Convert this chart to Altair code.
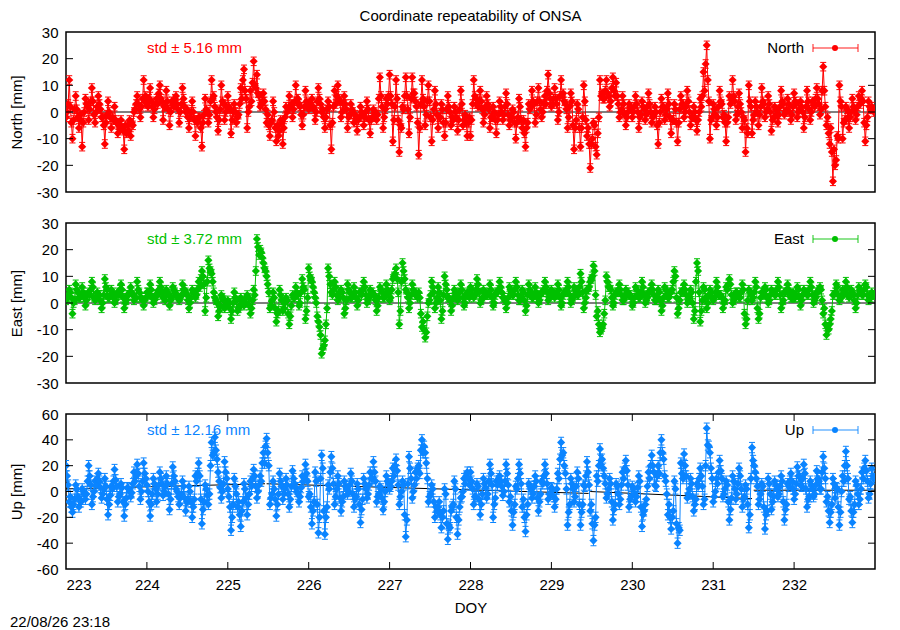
"""
Coordinate repeatability of ONSA: North / East / Up residuals vs. DOY.
"""
import altair as alt
import pandas as pd

# Epochs: 75 samples per day, read in three interleaved sets (a, b, c)
days = list(range(223, 233))
steps_per_day = 75
x_ticks = list(range(223, 233))

# North residuals [mm], set a (one row per day)
north_a = (
    [-2, 12, -10, 6, -6, -13, 5, -3, 9, -4, 6, -2, -12, 4, -6, 2, -8, -3, -14, -5, -9, 0, 6, -2, 12]
    + [3, 9, -2, 5, 10, -3, 8, -5, 3, 6, -4, 9, 0, -6, 4, -9, -2, -13, 5, -4, 12, 2, -7, 10, -3]
    + [6, -8, 3, -2, 9, 16, -6, 8, 19, 14, 2, 7, -4, -9, 4, -11, -7, -12, 2, 6, -2, 10, 3, -5, 8]
    + [1, 5, -3, 9, 0, -6, 4, -14, 8, 10, -2, 6, -6, 3, -4, -7, 2, -5, 4, -8, 1, -3, 13, -6, 5]
    + [14, -11, 12, -15, 2, 13, -8, 13, 4, -16, 12, -5, 10, -11, 8, -6, 3, -9, 6, -5, 2, -7, 8, -3, -9]
    + [-9, 12, 3, 8, -4, 6, -6, 2, -8, 4, -3, 7, -5, 1, -10, 5, -6, -13, 3, 8, -4, 9, -2, 6, 14]
    + [2, 9, -3, 12, 4, -6, 7, -14, 3, -13, 10, -9, -21, -4, -16, 12, 5, 12, 2, 13, 11, -2, 6, -5, 3]
    + [-2, 6, -6, 4, -3, 7, -4, 2, -12, 5, -3, 7, -8, 3, -11, 6, -2, 8, -5, 2, -7, 5, 15, 25, -10]
    + [3, -5, 8, -2, -11, 6, 12, -3, 7, -6, -15, 10, -8, 4, -5, 9, -2, 6, -7, 2, -4, 8, -1, 5, -3]
    + [7, -2, 4, -6, 8, -3, 3, 9, -1, 17, -5, -12, -26, -18, 10, -10, 2, -6, 5, -3, 6, 8, -11, 4, 2]
)
# North residuals [mm], set b
north_b = (
    [0, 2, -3, 1, -1, -4, 3, 1, 4, 0, 3, -2, -4, 0, -2, -3, -5, -6, -5, -7, -4, 1, 3, 2, 4]
    + [2, 4, 1, 3, 5, 2, 4, 0, 2, 3, 0, 5, 1, -2, 0, -3, -2, -4, 1, -1, 5, 0, -3, 4, 0]
    + [2, -3, 0, -1, 5, 8, 0, 4, 10, 7, 3, 4, -1, -4, 0, -5, -3, -6, 0, 2, 1, 4, 2, -1, 4]
    + [3, 2, 0, 5, 1, -2, 2, -4, 3, 5, 0, 3, -2, 1, -1, -3, 0, -2, 1, -3, 0, -1, 6, -2, 3]
    + [6, -3, 5, -5, 1, 6, -2, 7, 2, -6, 5, -1, 4, -3, 3, -2, 1, -4, 2, -2, 0, -3, 3, -1, -4]
    + [-3, 6, 2, 4, -1, 3, -2, 0, -3, 2, -1, 3, -3, 0, -4, 2, -3, -6, 1, 4, -1, 4, 0, 3, 7]
    + [3, 5, 0, 6, 3, -2, 4, -6, 1, -6, 4, -6, -12, -5, -8, 6, 5, 7, 4, 8, 6, 0, 3, -2, 2]
    + [0, 3, -2, 2, -1, 3, -2, 0, -4, 2, -1, 3, -3, 1, -4, 3, 0, 4, -2, 0, -3, 2, 8, 12, -3]
    + [1, -2, 4, -1, -4, 3, 6, -1, 3, -2, -6, 4, -3, 2, -1, 4, 0, 3, -3, 1, -1, 4, 0, 3, -1]
    + [4, 0, 2, -2, 4, 0, 2, 5, 1, 8, -2, -6, -14, -9, 4, -4, 1, -2, 2, -1, 3, 4, -5, 2, 1]
)
# North residuals [mm], set c
north_c = (
    [3, -4, 1, -2, -3, 0, 2, 4, -1, 2, 1, -5, -1, -2, -3, -4, -6, -7, -8, -3, -5, 3, 1, 5, 6]
    + [5, 2, 3, 7, 4, 2, 1, 4, 5, 1, 3, 2, -2, 0, -3, -4, -6, -1, 0, 4, 6, -2, 1, 3, 2]
    + [1, 0, -4, 3, 12, 5, 2, 11, 9, 6, 4, 1, -5, -3, -6, -9, -4, -2, 1, 3, 4, 5, -1, 2, 3]
    + [2, 1, 4, 3, -2, 1, -5, 2, 6, 4, 3, 1, -1, 0, -3, -2, -1, 0, -3, -2, -1, 5, 2, 1, 6]
    + [3, 2, -3, -6, 6, 1, 5, 7, -4, 3, 2, 4, -2, 1, -1, -2, -4, 1, 0, -3, -2, 1, -5, -4, -2]
    + [3, 5, 4, 1, 2, 1, -2, -3, -1, 0, 2, -1, -2, -4, -2, -3, -8, -4, 2, 3, 4, 1, 3, 8, 5]
    + [5, 3, 6, 7, 1, 2, -5, -3, -6, -2, -3, -12, -10, -13, -2, 7, 8, 6, 9, 6, 3, 1, -1, 0, 1]
    + [2, 0, -1, 1, 2, 0, -1, -5, 0, 2, 1, -2, -3, -4, 1, 3, 2, 0, -2, -3, 0, 6, 18, 4, -2]
    + [-1, 2, 3, -4, -2, 5, 4, 2, 0, -3, -8, 2, -1, 0, 2, 3, 1, 0, -2, -1, 2, 3, 1, 0, 2]
    + [3, 1, 0, 2, 1, 4, 5, 3, 8, 2, -8, -15, -20, -10, 2, -3, -2, 0, 1, 2, 5, -4, -2, 1, 0]
)

# East residuals [mm]
east_a = (
    [1, 5, -4, 7, 2, 6, -1, 4, 8, 1, 3, -2, 9, 2, 5, 0, 4, 7, -2, 3, 6, 1, 8, 2, -1]
    + [4, 7, 0, 3, 8, 2, 5, -1, 6, 3, 1, 7, 4, -2, 5, 2, 8, 12, -3, 16, 11, 2, -5, 3, -2]
    + [1, -6, 4, -3, 2, -1, 3, -4, 5, 24, 20, 15, 10, -2, 4, -7, 5, -3, 2, -8, 3, 6, -1, 9, -6]
    + [13, 8, 2, -7, -19, -14, 13, 4, 8, 1, 5, -4, 7, 2, 6, -1, 4, 8, 0, 5, 3, -3, 6, 2, 7]
    + [1, 9, 13, -8, 15, 5, -2, 7, 3, 4, -9, -13, 0, 8, -2, 6, -6, 10, 2, -3, 5, 1, 7, -1, 4]
    + [6, 2, 9, 0, 5, 3, 7, -1, 4, 8, 2, -2, 6, 3, 8, 1, 5, -3, 7, 2, 6, 0, 4, 8, 1]
    + [5, 2, 7, -1, 4, 8, 0, 6, 3, 11, -2, 5, 8, 14, -5, -11, -8, 10, 6, -1, 4, 7, 1, 5, 3]
    + [-1, 6, 2, 8, 0, 4, 7, 1, 5, -3, 6, 2, 4, 12, -4, 4, 7, 0, 5, -6, 15, -7, 6, -2, 5]
    + [1, 8, 3, -2, 6, 9, 0, 4, 2, 7, -8, 5, 1, 8, -6, 4, 6, 0, 5, 3, 8, -2, 4, 7, 2]
    + [2, 6, -1, 5, 3, 8, 0, 4, 6, -4, -12, -8, 3, 7, 1, 5, 8, 2, 4, -2, 6, 3, 7, 1, 4]
)
east_b = (
    [2, 4, 0, 5, 2, 4, 1, 3, 6, 2, 3, 0, 6, 2, 4, 1, 3, 5, 0, 3, 4, 2, 5, 2, 1]
    + [4, 5, 1, 3, 6, 2, 4, 1, 5, 3, 2, 5, 3, 0, 4, 3, 6, 10, 2, 13, 8, 1, -3, 2, -1]
    + [0, -3, 2, -2, 1, 0, 2, -2, 3, 21, 19, 13, 7, -1, 2, -4, 3, -2, 1, -5, 2, 4, 0, 6, -3]
    + [10, 6, 0, -9, -17, -8, 10, 3, 6, 2, 4, -2, 5, 2, 4, 1, 3, 6, 1, 4, 3, -1, 5, 2, 5]
    + [2, 10, 9, -3, 12, 4, 0, 5, 3, 2, -7, -11, 1, 6, 0, 4, -3, 7, 2, -1, 4, 2, 5, 0, 3]
    + [5, 3, 7, 1, 4, 3, 5, 0, 4, 6, 2, 0, 5, 3, 6, 1, 4, -1, 5, 2, 4, 1, 4, 6, 2]
    + [4, 3, 5, 0, 4, 6, 1, 5, 3, 8, 0, 5, 9, 12, -3, -10, -4, 8, 5, 0, 4, 5, 1, 4, 3]
    + [0, 5, 2, 6, 1, 4, 5, 1, 4, -1, 5, 2, 5, 10, -2, 4, 5, 1, 4, -3, 12, -3, 5, 0, 4]
    + [2, 6, 3, 0, 5, 7, 1, 4, 2, 5, -6, 4, 2, 6, -4, 4, 5, 1, 4, 3, 6, 0, 4, 5, 2]
    + [2, 5, 1, 4, 3, 6, 1, 4, 5, -2, -9, -6, 3, 6, 2, 4, 6, 3, 3, 0, 5, 3, 6, 2, 3]
)
east_c = (
    [3, 2, 1, 4, 3, 2, 3, 5, 2, 4, 1, 3, 5, 3, 2, 3, 5, 2, 1, 4, 3, 2, 4, 1, 2]
    + [3, 2, 3, 5, 4, 1, 3, 2, 4, 2, 3, 5, 1, 2, 4, 5, 9, 7, 8, 12, 4, 0, -1, 1, 0]
    + [-2, 0, 1, -1, 0, 2, -1, 1, 12, 18, 17, 12, 4, 1, -2, -3, 1, 0, -4, -1, 2, 3, 4, 5, 2]
    + [9, 4, -5, -12, -16, -2, 7, 5, 3, 4, 2, 1, 4, 3, 2, 4, 5, 3, 2, 4, 1, 2, 4, 3, 4]
    + [5, 11, 4, 8, 9, 2, 3, 4, 2, -4, -10, -5, 3, 4, 2, 1, 3, 5, 1, 2, 3, 4, 2, 3, 2]
    + [3, 5, 4, 2, 3, 4, 2, 3, 5, 4, 1, 2, 4, 5, 3, 2, 1, 3, 4, 3, 2, 3, 5, 4, 3]
    + [3, 4, 2, 3, 5, 3, 2, 4, 6, 4, 2, 6, 10, 3, -8, -9, 1, 6, 2, 3, 5, 3, 2, 4, 2]
    + [2, 3, 4, 3, 2, 5, 3, 2, 1, 2, 3, 4, 8, 2, 1, 5, 3, 2, 0, 8, 4, 1, 2, 3, 2]
    + [4, 3, 2, 1, 7, 3, 2, 3, 4, -4, 1, 3, 4, -2, 2, 3, 2, 3, 4, 5, 3, 1, 5, 3, 4]
    + [3, 2, 3, 4, 5, 3, 2, 5, 1, -8, -10, -3, 4, 3, 2, 4, 3, 5, 1, 3, 4, 5, 3, 2, 3]
)

# Up residuals [mm]
up_a = (
    [20, -8, -16, 5, -12, 2, -6, 20, -10, 8, 14, -5, 10, -18, 4, 17, -8, 6, -19, 3, -4, 15, 21, -6, 22]
    + [5, -19, 10, -8, 15, -3, 12, -14, 19, 2, -10, 8, -15, 4, -20, 12, 22, -25, 5, -10, 38, 42, 15, -5, 23]
    + [2, -30, 10, -12, -27, 6, -18, 8, 17, -5, 12, 30, 41, -10, 8, -19, 14, -6, 10, -12, 16, 3, -8, 12, 21]
    + [-4, -25, 15, -32, 28, -33, 5, 27, -10, 12, -15, 8, -2, 14, -12, 6, -24, 10, -5, 15, 23, -8, 4, -14, 12]
    + [2, 18, 25, -10, 8, -35, 27, -5, 15, 20, 40, 30, -8, 5, -20, -12, -28, 2, -37, -15, 8, -33, -5, 10, 15]
    + [15, -10, 6, -18, 10, -5, 21, -20, 8, 12, -3, 21, -8, -26, 4, 21, -12, -31, 6, -5, 12, -15, 8, 21, -6]
    + [3, -12, 14, 38, 20, -26, 10, -8, 15, -26, 5, 23, -15, -38, 12, 33, 18, -5, 10, -22, 6, -10, 15, 24, -12]
    + [4, -8, 12, -27, -10, 15, 28, 5, 20, 40, 12, -18, -29, 8, -40, 22, 29, -5, 10, -15, 6, 18, -10, 49, 30]
    + [-8, 10, 24, -4, 8, -22, 12, -6, 18, -12, 5, -28, 34, 15, -10, 6, -29, 10, -14, 8, -4, 12, -22, 6, 14]
    + [-6, 19, 5, 21, -12, 8, -4, 16, 2, 27, -8, -24, 10, 3, -26, 12, 31, -6, -24, 8, -10, 15, 24, -5, 18]
)
up_b = (
    [12, -4, -10, 2, -6, 0, -2, 12, -4, 5, 8, -2, 4, -10, 2, 9, -4, 3, -10, 2, -1, 8, 14, 0, 14]
    + [0, -10, 6, -2, 10, 0, 6, -6, 12, 0, -5, 4, -8, 0, -12, 8, 12, -14, 2, -2, 28, 32, 8, 0, 15]
    + [-4, -20, 4, -8, -15, 2, -10, 4, 12, 0, 8, 22, 30, -5, 2, -10, 8, -2, 5, -6, 10, 0, -4, 8, 14]
    + [-2, -15, 8, -20, 18, -20, 2, 18, -4, 6, -8, 4, 0, 8, -6, 2, -14, 6, -2, 10, 15, -4, 2, -8, 8]
    + [4, 12, 16, -4, 5, -22, 18, 0, 10, 14, 30, 22, -4, 2, -12, -8, -20, -2, -26, -12, 2, -22, -4, 6, 10]
    + [8, -4, 4, -10, 6, -2, 14, -10, 5, 8, 0, 14, -4, -16, 2, 14, -6, -18, 4, -2, 8, -8, 6, 14, -2]
    + [2, -6, 10, 28, 14, -16, 6, -4, 10, -16, 4, 15, -10, -26, 8, 24, 12, -2, 6, -14, 4, -6, 10, 16, -6]
    + [2, -4, 8, -18, -6, 10, 20, 4, 14, 30, 8, -10, -20, 2, -28, 14, 20, -2, 6, -10, 4, 12, -6, 36, 18]
    + [-4, 6, 16, -2, 5, -14, 8, -2, 12, -6, 2, -18, 24, 10, -6, 4, -18, 6, -8, 5, -2, 8, -14, 4, 8]
    + [-2, 12, 4, 14, -6, 5, -2, 10, 2, 18, -4, -16, 6, 2, -16, 8, 20, -4, -16, 5, -6, 10, 16, -2, 12]
)
up_c = (
    [5, -12, -6, -4, -8, -2, 8, 5, 0, 10, 3, 2, -6, -3, 8, 4, -2, -8, -5, 0, 6, 12, 4, 8, 10]
    + [-8, -2, 2, 5, 6, 4, -2, 6, 8, -4, -2, -5, -6, -8, -6, 14, -6, -8, -3, 20, 30, 25, 3, 6, 10]
    + [-12, -10, -2, -18, -8, -5, -2, 10, 4, 5, 22, 35, 20, -2, -6, -2, 4, 2, -2, 4, 6, -2, 3, 10, 8]
    + [-12, -8, -10, 10, -15, -12, 15, 6, 2, -5, -4, 2, 5, -2, -4, -10, -6, 2, 5, 10, 8, -2, -5, 0, 6]
    + [8, 20, 5, 0, -18, 6, 10, 5, 18, 32, 35, 10, -2, -8, -15, -18, -15, -25, -28, -10, -20, -12, 0, 12, 5]
    + [2, -4, -6, -2, 3, 8, 5, -5, 10, 4, 8, 5, -15, -10, 10, 6, -20, -10, 2, 4, -5, -2, 12, 6, -2]
    + [-4, 2, 25, 30, 2, -10, 2, 4, -10, -10, 12, 5, -25, -20, 20, 25, 6, 2, -8, -10, -2, 5, 18, 5, -4]
    + [-2, 3, -12, -15, 4, 20, 15, 12, 30, 25, -2, -20, -15, -25, -30, 10, 12, 2, -4, -6, 10, 4, 20, 35, 10]
    + [0, 15, 10, 2, -8, -5, 2, 6, 2, -4, -10, 10, 20, 4, -2, -12, -15, -2, -4, 2, 4, -8, -10, 8, 2]
    + [6, 12, 10, 2, -4, 2, 5, 8, 15, 10, -15, -10, -5, -12, 0, 20, 10, -15, -10, -2, 2, 18, 8, 6, 10]
)

# formal errors [mm]
north_err = 1.6
east_err = 1.6
up_err = 4.0

# black reference solution (mostly hidden below the data)
ne_ref_doy = [223.0, 233.0]
ne_ref_val = [0, 0]
ne_ref_seg = [0, 0]
up_ref_doy = [223.0, 225.46, 225.48, 229.46, 229.48, 231.48, 231.5, 233.0]
up_ref_val = [2, 6, 6, -1.5, 0, -5.5, 1, 1]
up_ref_seg = [0, 0, 1, 1, 2, 2, 3, 3]

doy = [d + k / steps_per_day for d in days for k in range(steps_per_day)]


def interleave(a, b, c):
    # merge the three sample sets into one time-ordered list
    return [v for trio in zip(a, b, c) for v in trio]


north = interleave(north_a, north_b, north_c)
east = interleave(east_a, east_b, east_c)
up = interleave(up_a, up_b, up_c)

WIDTH = 809
FONT = "Liberation Sans"
FS = 15


def makePanel(values, err, color, name, ytitle, ydomain, yticks, stdText,
              refDoy, refVal, refSeg, height, bottom=False, title=None):
    """Build one residual panel as a layered chart."""
    df = pd.DataFrame({"doy": doy, "v": values})
    df["lo"] = df["v"] - err
    df["hi"] = df["v"] + err

    xscale = alt.Scale(domain=[223, 233], nice=False, zero=False)
    yscale = alt.Scale(domain=ydomain, nice=False, zero=False)
    if bottom:
        xaxis = alt.Axis(values=x_ticks, title="DOY", ticks=False, domain=False,
                         grid=False, labelPadding=8, titlePadding=8,
                         labelExpr="'' + datum.value")
    else:
        xaxis = None
    yaxis = alt.Axis(values=yticks, title=ytitle, ticks=False, domain=False,
                     grid=False, labelPadding=8, titlePadding=12,
                     labelExpr="'' + datum.value")

    def X(f):
        return alt.X(f, type="quantitative", scale=xscale, axis=xaxis)

    def Y(f):
        return alt.Y(f, type="quantitative", scale=yscale, axis=yaxis)

    # reference line below everything
    refDf = pd.DataFrame({"doy": refDoy, "v": refVal, "seg": refSeg})
    ref = alt.Chart(refDf).mark_line(color="black", strokeWidth=1).encode(
        x=X("doy"), y=Y("v"), detail="seg:N")

    base = alt.Chart(df)
    line = base.mark_line(color=color, strokeWidth=1, clip=True).encode(x=X("doy"), y=Y("v"))
    bars = base.mark_rule(color=color, strokeWidth=1, clip=True).encode(
        x=X("doy"), y=Y("lo"), y2="hi:Q")
    capLo = base.mark_tick(color=color, orient="horizontal", size=6, thickness=1,
                           opacity=1, clip=True).encode(x=X("doy"), y=Y("lo"))
    capHi = base.mark_tick(color=color, orient="horizontal", size=6, thickness=1,
                           opacity=1, clip=True).encode(x=X("doy"), y=Y("hi"))
    pts = base.mark_point(shape="diamond", filled=True, size=66, color=color,
                          opacity=1, clip=True).encode(x=X("doy"), y=Y("v"))

    # inward ticks (gnuplot style)
    ytDf = pd.DataFrame({"t": yticks[1:-1]})
    tickL = alt.Chart(ytDf).mark_rule(color="black", strokeWidth=1).encode(
        x=alt.value(0), x2=alt.value(7), y=Y("t"))
    tickR = alt.Chart(ytDf).mark_rule(color="black", strokeWidth=1).encode(
        x=alt.value(WIDTH - 7), x2=alt.value(WIDTH), y=Y("t"))
    layers = [ref, line, bars, capLo, capHi, pts, tickL, tickR]
    if bottom:
        xtDf = pd.DataFrame({"t": x_ticks[1:]})
        tickT = alt.Chart(xtDf).mark_rule(color="black", strokeWidth=1).encode(
            x=X("t"), y=alt.value(0), y2=alt.value(7))
        tickB = alt.Chart(xtDf).mark_rule(color="black", strokeWidth=1).encode(
            x=X("t"), y=alt.value(height - 7), y2=alt.value(height))
        layers += [tickT, tickB]

    # std annotation
    one = pd.DataFrame({"s": [stdText], "n": [name]})
    std = alt.Chart(one).mark_text(align="left", baseline="middle", color=color,
                                   fontSize=FS, font=FONT).encode(
        x=alt.value(81), y=alt.value(16), text="s:N")
    # legend: label + errorbar symbol
    legText = alt.Chart(one).mark_text(align="right", baseline="middle", color="black",
                                       fontSize=FS, font=FONT).encode(
        x=alt.value(738), y=alt.value(16), text="n:N")
    legLine = alt.Chart(one).mark_rule(color=color, opacity=0.6, strokeWidth=1.5).encode(
        x=alt.value(747), x2=alt.value(792), y=alt.value(16))
    legCapL = alt.Chart(one).mark_rule(color=color, opacity=0.6, strokeWidth=1.5).encode(
        x=alt.value(747), y=alt.value(12), y2=alt.value(20))
    legCapR = alt.Chart(one).mark_rule(color=color, opacity=0.6, strokeWidth=1.5).encode(
        x=alt.value(792), y=alt.value(12), y2=alt.value(20))
    legDot = alt.Chart(one).mark_point(shape="circle", filled=True, size=36, color=color,
                                       opacity=1).encode(x=alt.value(769), y=alt.value(16))
    layers += [std, legText, legLine, legCapL, legCapR, legDot]

    if title:
        tDf = pd.DataFrame({"t": [title]})
        layers.append(alt.Chart(tDf).mark_text(align="center", baseline="middle",
                                               fontSize=FS, font=FONT, color="black").encode(
            x=alt.value(WIDTH / 2), y=alt.value(-16), text="t:N"))
    if bottom:
        sDf = pd.DataFrame({"t": ["22/08/26 23:18"]})
        layers.append(alt.Chart(sDf).mark_text(align="left", baseline="middle",
                                               fontSize=FS, font=FONT, color="black").encode(
            x=alt.value(-56), y=alt.value(height + 53), text="t:N"))

    return alt.layer(*layers).properties(width=WIDTH, height=height)


northChart = makePanel(north, north_err, "#ff0000", "North", "North [mm]", [-30, 30],
                       [-30, -20, -10, 0, 10, 20, 30], "std \u00b1 5.16 mm",
                       ne_ref_doy, ne_ref_val, ne_ref_seg, 160,
                       title="Coordinate repeatability of ONSA")
eastChart = makePanel(east, east_err, "#00c000", "East", "East [mm]", [-30, 30],
                      [-30, -20, -10, 0, 10, 20, 30], "std \u00b1 3.72 mm",
                      ne_ref_doy, ne_ref_val, ne_ref_seg, 160)
upChart = makePanel(up, up_err, "#0a84ff", "Up", "Up [mm]", [-60, 60],
                    [-60, -40, -20, 0, 20, 40, 60], "std \u00b1 12.16 mm",
                    up_ref_doy, up_ref_val, up_ref_seg, 155, bottom=True)

chart = alt.vconcat(northChart, eastChart, upChart, spacing=14).properties(
    padding=0
).configure(
    font=FONT, background="white"
).configure_view(
    stroke="black", strokeWidth=1.5
).configure_axis(
    labelFont=FONT, titleFont=FONT, labelFontSize=FS, titleFontSize=FS,
    labelColor="black", titleColor="black", titleFontWeight="normal"
)

chart.save("out.html", embed_options={"renderer": "svg", "actions": False})
